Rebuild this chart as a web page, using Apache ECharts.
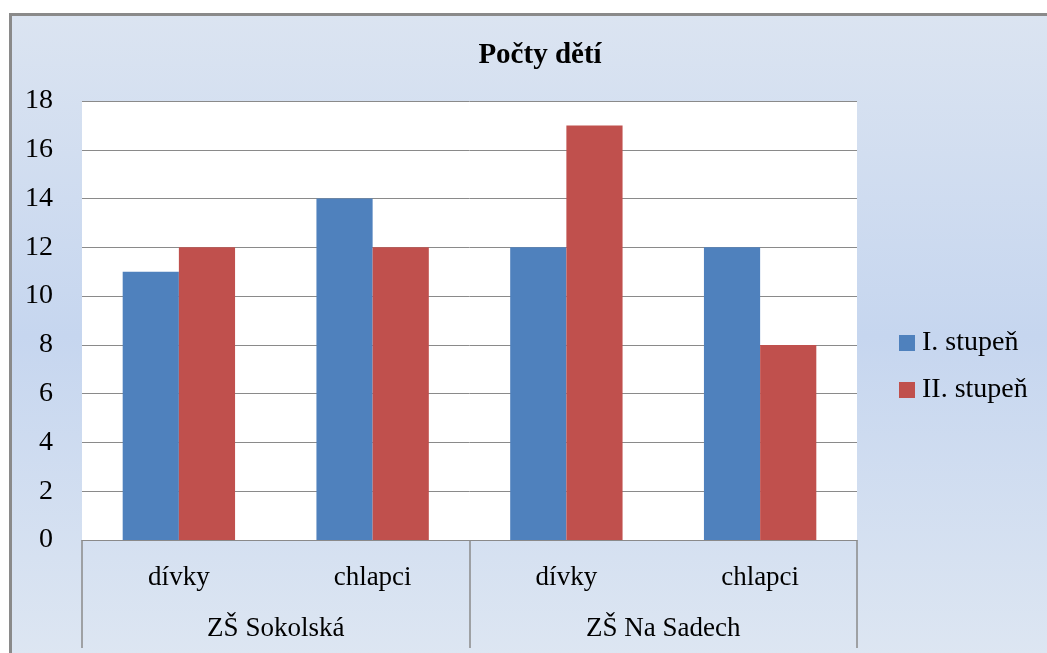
<!DOCTYPE html>
<html>
<head>
<meta charset="utf-8">
<script src="https://cdn.jsdelivr.net/npm/echarts@6/dist/echarts.min.js"></script>
<style>
  html, body { margin: 0; padding: 0; background: #ffffff; overflow: hidden; }
  #frame {
    position: absolute; left: 9px; top: 13px; width: 1036px; height: 640px;
    border-left: 3px solid #8a8a8a; border-top: 3px solid #8a8a8a; border-right: 1px solid #e4ebf5;
  }
  #chart { width: 1036px; height: 640px; }
</style>
</head>
<body>
<div id="frame"><div id="chart"></div></div>
<script>
// Počty dětí podle školy, pohlaví a stupně
const subCategories = ['dívky', 'chlapci', 'dívky', 'chlapci'];
const schools = ['ZŠ Sokolská', 'ZŠ Na Sadech'];
const seriesNames = ['I. stupeň', 'II. stupeň'];
const firstGrade = [11, 14, 12, 12];
const secondGrade = [12, 12, 17, 8];
const yTicks = { min: 0, max: 18, interval: 2 };

const serif = '"Liberation Serif", "Times New Roman", serif';
const chart = echarts.init(document.getElementById('chart'), null, { renderer: 'canvas' });

chart.setOption({
  backgroundColor: {
    type: 'linear', x: 0, y: 0, x2: 0, y2: 1,
    colorStops: [
      { offset: 0, color: '#dbe4f1' },
      { offset: 0.5, color: '#c6d6ef' },
      { offset: 1, color: '#dde6f2' }
    ]
  },
  animation: false,
  textStyle: { fontFamily: serif, color: '#000' },
  title: {
    text: 'Počty dětí',
    left: 523, top: 20, textAlign: 'center',
    textStyle: { fontFamily: serif, fontSize: 29, fontWeight: 'bold', color: '#000' }
  },
  legend: {
    orient: 'vertical',
    left: 887, top: 313, padding: 0,
    itemWidth: 16, itemHeight: 16, itemGap: 19,
    icon: 'rect',
    textStyle: { fontFamily: serif, fontSize: 28, color: '#000', padding: [0, 0, 0, 2] },
    data: seriesNames
  },
  grid: {
    left: 70, top: 85, width: 775, height: 439,
    show: true, backgroundColor: '#ffffff', borderWidth: 0
  },
  xAxis: [
    {
      type: 'category', data: subCategories, position: 'bottom',
      axisLine: { show: true, lineStyle: { color: '#8a8a8a', width: 1 } },
      axisTick: { show: false },
      axisLabel: { fontFamily: serif, fontSize: 27, color: '#000', margin: 24 }
    },
    {
      type: 'category', data: schools, position: 'bottom',
      axisLine: { show: false },
      axisTick: { show: true, alignWithLabel: false, length: 108, lineStyle: { color: '#8a8a8a', width: 1.5 } },
      axisLabel: { fontFamily: serif, fontSize: 27, color: '#000', margin: 75 },
      splitLine: { show: false }
    }
  ],
  yAxis: {
    type: 'value', min: yTicks.min, max: yTicks.max, interval: yTicks.interval,
    axisLine: { show: false }, axisTick: { show: false },
    axisLabel: { fontFamily: serif, fontSize: 28, color: '#000', margin: 29 },
    splitLine: { lineStyle: { color: '#8a8a8a', width: 1 } }
  },
  series: [
    {
      name: seriesNames[0], type: 'bar', data: firstGrade, xAxisIndex: 0,
      barGap: '0%', barCategoryGap: '42%',
      itemStyle: { color: '#4f81bd' }
    },
    {
      name: seriesNames[1], type: 'bar', data: secondGrade, xAxisIndex: 0,
      barGap: '0%', barCategoryGap: '42%',
      itemStyle: { color: '#c0504d' }
    }
  ]
});
</script>
</body>
</html>
